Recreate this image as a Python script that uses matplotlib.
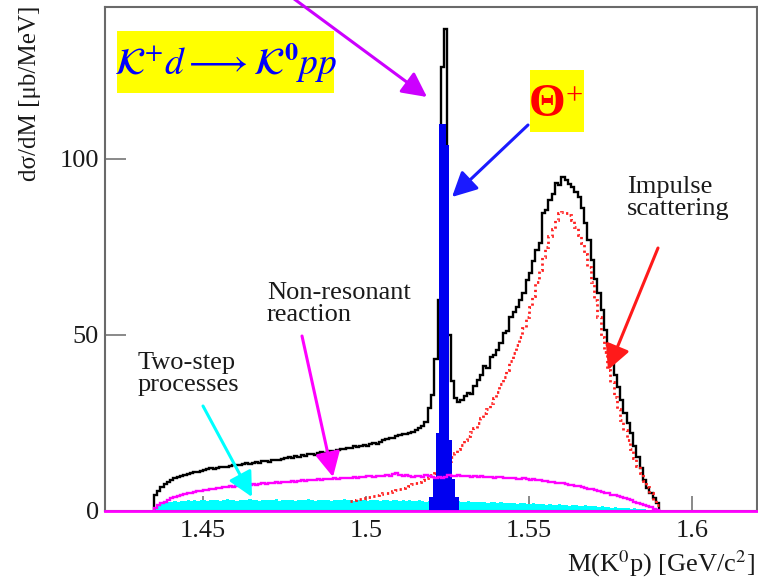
import numpy as np
import matplotlib
matplotlib.use("Agg")
import matplotlib.pyplot as plt
from matplotlib.patches import Rectangle

plt.rcParams["font.family"] = ["Liberation Serif", "DejaVu Serif"]
plt.rcParams["mathtext.fontset"] = "stix"

W, H = 758, 577

# ---- K0 p invariant-mass spectra, 1 MeV bins (dsigma/dM in mub/MeV) ----
mass_lo = 1.435
mass_hi = 1.590

total = [
    4.5, 5.5, 6.6, 7.6, 8.3, 8.8, 9.3, 9.6, 9.9, 10.2,
    10.4, 10.7, 11.0, 11.1, 11.4, 11.6, 11.8, 12.0, 11.9, 12.2,
    12.3, 12.5, 12.4, 12.8, 12.9, 13.1, 12.9, 13.3, 13.5, 13.4,
    13.6, 13.9, 13.7, 14.0, 14.2, 13.9, 14.3, 14.5, 14.4, 14.8,
    14.9, 15.2, 15.0, 15.5, 15.4, 15.7, 15.6, 16.0, 16.2, 15.9,
    16.4, 16.6, 16.3, 16.9, 17.0, 16.8, 17.3, 17.5, 17.4, 17.8,
    17.9, 18.3, 18.0, 18.4, 18.7, 18.5, 19.0, 19.3, 19.1, 19.6,
    20.0, 20.3, 20.8, 20.6, 21.2, 21.5, 21.9, 21.7, 22.2, 22.5,
    22.9, 23.4, 24.1, 25.3, 29.2, 33.0, 43.0, 60.0, 126.0, 137.0,
    50.0, 37.0, 32.0, 31.0, 31.5, 32.5, 33.4, 33.2, 35.5, 37.2,
    38.5, 41.0, 40.6, 43.8, 44.2, 45.7, 47.6, 50.5, 51.0, 55.2,
    56.5, 58.0, 60.0, 62.0, 65.6, 67.5, 71.0, 74.1, 76.0, 84.6,
    85.5, 88.3, 90.0, 93.1, 92.5, 95.0, 94.0, 93.0, 92.1, 90.5,
    89.3, 86.0, 81.7, 77.0, 71.3, 66.0, 61.8, 57.0, 51.4, 47.0,
    41.9, 38.5, 35.3, 31.5, 27.7, 25.0, 22.0, 18.5, 15.4, 12.0,
    8.7, 6.5, 5.0, 3.5, 2.2,
]

non_resonant = [
    0.8, 1.5, 2.1, 2.6, 3.1, 3.5, 3.8, 4.2, 4.5, 4.7,
    4.9, 5.1, 5.3, 5.5, 5.6, 5.8, 6.0, 6.1, 6.2, 6.4,
    6.5, 6.6, 6.7, 6.9, 6.8, 7.0, 7.1, 7.3, 7.2, 7.4,
    7.5, 7.4, 7.7, 7.8, 7.6, 7.9, 8.0, 8.1, 7.9, 8.2,
    8.1, 8.3, 8.4, 8.2, 8.5, 8.6, 8.4, 8.7, 8.6, 8.8,
    8.9, 8.7, 9.0, 9.1, 8.9, 9.2, 9.1, 9.3, 9.2, 9.4,
    9.3, 9.6, 9.4, 9.7, 9.5, 9.8, 9.9, 9.6, 9.9, 10.0,
    9.8, 10.1, 9.9, 10.4, 10.6, 10.2, 9.9, 10.1, 9.8, 9.7,
    9.9, 10.0, 9.7, 10.2, 9.8, 9.6, 9.3, 9.5, 9.2, 9.6,
    10.2, 10.0, 9.9, 10.1, 9.8, 9.9, 10.0, 9.7, 9.8, 9.6,
    9.8, 9.5, 9.7, 9.6, 9.4, 9.5, 9.7, 9.3, 9.4, 9.2,
    9.3, 9.1, 9.0, 9.2, 8.9, 8.8, 8.9, 8.6, 8.7, 8.5,
    8.4, 8.2, 8.3, 8.0, 7.8, 7.9, 7.6, 7.4, 7.3, 7.1,
    6.9, 6.8, 6.5, 6.3, 6.1, 5.9, 5.6, 5.4, 5.1, 4.9,
    4.6, 4.4, 4.1, 3.8, 3.5, 3.2, 2.9, 2.6, 2.3, 2.0,
    1.7, 1.3, 1.0, 0.6, 0.3,
]

two_step = [
    0.8, 1.6, 2.0, 2.3, 2.5, 2.4, 2.7, 2.6, 2.8, 2.7,
    2.9, 2.7, 3.0, 2.8, 2.9, 3.1, 2.8, 3.0, 2.9, 3.1,
    2.8, 3.0, 3.2, 2.9, 3.0, 2.8, 3.1, 2.9, 3.0, 3.2,
    2.9, 3.1, 2.8, 3.0, 3.1, 2.9, 3.0, 3.2, 2.8, 3.0,
    3.1, 2.9, 3.0, 2.8, 3.1, 3.0, 2.9, 3.2, 3.0, 2.8,
    3.0, 3.1, 2.9, 3.0, 2.8, 3.1, 2.9, 3.0, 3.2, 2.9,
    3.0, 2.8, 3.1, 2.9, 3.0, 2.8, 3.0, 2.9, 3.1, 2.8,
    2.9, 3.0, 2.7, 2.9, 3.0, 2.8, 2.9, 2.7, 2.9, 2.8,
    2.7, 2.9, 2.8, 2.6, 2.8, 2.7, 2.9, 2.6, 2.8, 2.7,
    2.6, 2.8, 2.5, 2.7, 2.6, 2.5, 2.7, 2.4, 2.6, 2.5,
    2.4, 2.6, 2.3, 2.5, 2.4, 2.2, 2.4, 2.3, 2.1, 2.3,
    2.2, 2.0, 2.2, 2.1, 1.9, 2.0, 2.1, 1.8, 1.9, 1.8,
    1.7, 1.9, 1.6, 1.7, 1.8, 1.5, 1.6, 1.4, 1.6, 1.5,
    1.4, 1.3, 1.5, 1.2, 1.3, 1.2, 1.1, 1.2, 1.0, 1.1,
    0.9, 1.0, 0.8, 0.9, 0.7, 0.8, 0.6, 0.7, 0.5, 0.5,
    0.4, 0.3, 0.3, 0.2, 0.1,
]

# impulse (quasi-free) scattering, starts at 1.495 GeV
impulse_lo = 1.495
impulse = [
    2.8, 3.0, 3.3, 3.4, 3.6, 3.9, 4.0, 4.3, 4.5, 4.7,
    4.9, 5.0, 5.3, 5.6, 5.9, 6.1, 6.4, 6.8, 7.1, 7.6,
    7.9, 8.3, 8.7, 9.2, 9.7, 10.2, 10.6, 11.2, 12.0, 13.0,
    14.0, 15.2, 16.5, 17.6, 18.8, 20.1, 21.2, 22.4, 23.6, 24.9,
    26.3, 27.8, 29.0, 30.6, 32.0, 33.8, 36.0, 38.0, 40.0, 42.5,
    44.7, 47.0, 49.5, 52.0, 55.0, 58.0, 61.0, 65.0, 68.5, 72.0,
    75.0, 78.0, 80.0, 82.5, 84.6, 85.0, 84.5, 84.0, 82.5, 80.7,
    78.5, 76.0, 73.0, 69.4, 65.0, 60.0, 55.0, 49.5, 45.0, 40.0,
    36.5, 32.4, 29.0, 25.8, 23.0, 20.1, 17.5, 15.0, 12.8, 10.7,
    8.5, 6.8, 5.0, 3.0, 1.5,
]

# Theta+ resonance contribution
theta_edges = [1.5195, 1.5205, 1.5215, 1.5225, 1.5235,
               1.5245, 1.5255, 1.5265, 1.5275, 1.5285]
theta = [4.0, 9.0, 22.0, 110.0, 110.0, 104.0, 20.0, 9.0, 4.0]

edges = np.linspace(mass_lo, mass_hi, len(total) + 1)
impulse_edges = np.linspace(impulse_lo, mass_hi, len(impulse) + 1)

x_ticks = [1.45, 1.50, 1.55, 1.60]
x_ticklabels = ["1.45", "1.5", "1.55", "1.6"]
y_ticks = [0, 50, 100]
y_ticklabels = ["0", "50", "100"]


def fxy(px, py):
    """Pixel position (from top-left) to figure fraction."""
    return (px / W, 1.0 - py / H)


fig = plt.figure(figsize=(W / 100, H / 100), dpi=100)
fig.patch.set_facecolor("white")
ax_l, ax_r, ax_t, ax_b = 105, 757, 7.3, 510.7
ax = fig.add_axes([ax_l / W, 1 - ax_b / H, (ax_r - ax_l) / W, (ax_b - ax_t) / H])
ax.set_xlim(1.42, 1.62)
ax.set_ylim(0, 143.1)

ax.stairs(two_step, edges, baseline=0, fill=True, color="#00ffff", zorder=2)
ax.stairs(total, edges, baseline=0, color="black", lw=1.7, zorder=3)
ax.stairs(impulse, impulse_edges, baseline=None, color="#ff2020", lw=2.0,
          linestyle=(0, (0.8, 1.2)), zorder=4)
ax.stairs(theta, theta_edges, baseline=0, fill=True, color="#0000f0", zorder=5)
ax.stairs(non_resonant, edges, baseline=0, color="#ff00ff", lw=1.7, zorder=6)
ax.axhline(0, color="#ff00ff", lw=2.0, zorder=7, clip_on=False)

frame = "#6a6a6a"
for sp in ax.spines.values():
    sp.set_color(frame)
    sp.set_linewidth(1.5)
ax.set_xticks(x_ticks)
ax.set_xticklabels(x_ticklabels)
ax.set_yticks(y_ticks)
ax.set_yticklabels(y_ticklabels)
ax.tick_params(axis="x", direction="in", length=11, width=1.1, color=frame,
               labelsize=19, pad=6.5, labelcolor="#1a1a1a")
ax.tick_params(axis="y", direction="in", length=15, width=1.1, color=frame,
               labelsize=19, pad=4.5, labelcolor="#1a1a1a")

# axis titles
fig.text(*fxy(755, 571), r"M(K$^{0}$p) [GeV/c$^{2}$]", ha="right",
         va="baseline", fontsize=19, color="#1a1a1a")
fig.text(*fxy(30, 6), "d\u03c3/dM [\u03bcb/MeV]", rotation=90, ha="center",
         va="top", fontsize=18, color="#1a1a1a")

# reaction label on a yellow panel
x0, y0 = fxy(117, 93)
x1, y1 = fxy(334, 31)
fig.add_artist(Rectangle((x0, y0), x1 - x0, y1 - y0, transform=fig.transFigure,
                         facecolor="#ffff00", edgecolor="none", zorder=8))
fig.text(*fxy(226, 63), r"$\mathcal{K}^{+}d\longrightarrow\mathcal{K}^{\mathbf{0}}pp$",
         ha="center", va="center", fontsize=27, color="#0000ff", zorder=9)

# Theta+ label on a yellow panel
x0, y0 = fxy(530, 132)
x1, y1 = fxy(584, 70)
fig.add_artist(Rectangle((x0, y0), x1 - x0, y1 - y0, transform=fig.transFigure,
                         facecolor="#ffff00", edgecolor="none", zorder=8))
fig.text(*fxy(547.5, 105), "\u0398", ha="center", va="center", fontsize=34,
         fontweight="bold", color="#ff0000", zorder=9)
fig.text(*fxy(574.5, 97), "+", ha="center", va="center", fontsize=22,
         color="#ff0000", zorder=9)

# process labels
fig.text(*fxy(138, 352), "Two-step\nprocesses", ha="left", va="top",
         fontsize=19, linespacing=1.0, color="#1a1a1a")
fig.text(*fxy(267, 282), "Non-resonant\nreaction", ha="left", va="top",
         fontsize=19, linespacing=1.0, color="#1a1a1a")
fig.text(*fxy(627, 176), "Impulse\nscattering", ha="left", va="top",
         fontsize=19, linespacing=1.0, color="#1a1a1a")


def arrow(p_from, p_to, color):
    ax.annotate("", xy=fxy(*p_to), xycoords="figure fraction",
                xytext=fxy(*p_from), textcoords="figure fraction",
                annotation_clip=False, zorder=10,
                arrowprops=dict(arrowstyle="-|>,head_length=0.75,head_width=0.38",
                                mutation_scale=20, color=color, lw=2.2,
                                shrinkA=0, shrinkB=0))


arrow((282, -10), (427, 97), "#cc00ff")
arrow((528, 125), (452, 197), "#1a1aff")
arrow((658, 248), (608, 370), "#ff1a1a")
arrow((302, 336), (333, 477), "#ff00ff")
arrow((203, 406), (252, 497), "#00ffff")

fig.savefig("out.png", dpi=100)
